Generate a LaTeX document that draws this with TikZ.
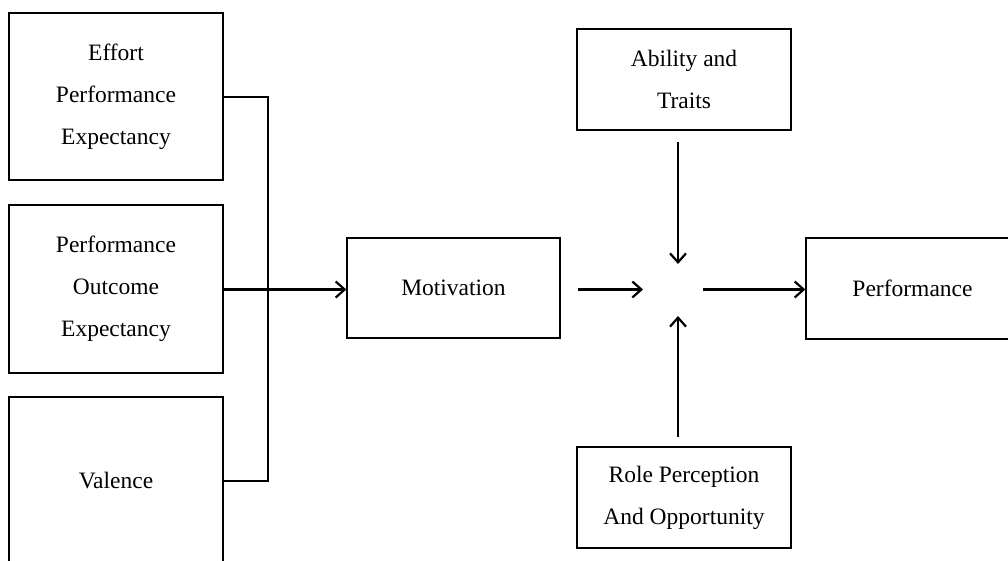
\documentclass[tikz,border=0pt]{standalone}
\usepackage{fontspec}
\setmainfont{Liberation Serif}
\usetikzlibrary{arrows.meta}
\begin{document}
\begin{tikzpicture}[x=1pt,y=-1pt,
  box/.style={draw,line width=1.3pt,minimum width=214pt,align=center,inner sep=0pt,
    font=\fontsize{23.5}{42}\selectfont},
  conn/.style={line width=2.2pt},
  arr/.style={conn,-{Straight Barb[length=9pt,width=16pt,line width=2.2pt]}}]
\clip (0,0) rectangle (1008,561);
\fill[white] (0,0) rectangle (1008,561);
\node[box,minimum height=167pt] (epe) at (116,96.5) {Effort\\Performance\\Expectancy};
\node[box,minimum height=168pt] (poe) at (116,289) {Performance\\Outcome\\Expectancy};
\node[box,minimum height=168pt] (val) at (116,481) {Valence};
\node[box,minimum width=213pt,minimum height=100pt] (mot) at (453.5,288) {Motivation};
\node[box,minimum height=101pt] (abi) at (684,79.5) {Ability and\\Traits};
\node[box,minimum height=101pt] (role) at (684,497.5) {Role Perception\\And Opportunity};
\node[box,minimum width=213pt,minimum height=101pt] (perf) at (912.5,288.5) {Performance};
\coordinate (c) at (678,289.5);
\coordinate (bus) at (268,97);
\coordinate (pe) at (223,289.5);
\coordinate (m1) at (578,289.5);
\coordinate (m2) at (643,289.5);
\coordinate (p1) at (703,289.5);
\coordinate (a1) at (678,142);
\coordinate (a2) at (678,264);
\coordinate (r1) at (678,437);
\coordinate (r2) at (678,316);
\draw[conn] (epe.east |- bus) -- (bus) -- (bus |- val.east) -- (val.east);
\draw[arr] (pe) -- (pe -| mot.west);
\draw[arr] (m1) -- (m2);
\draw[arr] (p1) -- (p1 -| perf.west);
\draw[arr] (a1) -- (a2);
\draw[arr] (r1) -- (r2);
\end{tikzpicture}
\end{document}
